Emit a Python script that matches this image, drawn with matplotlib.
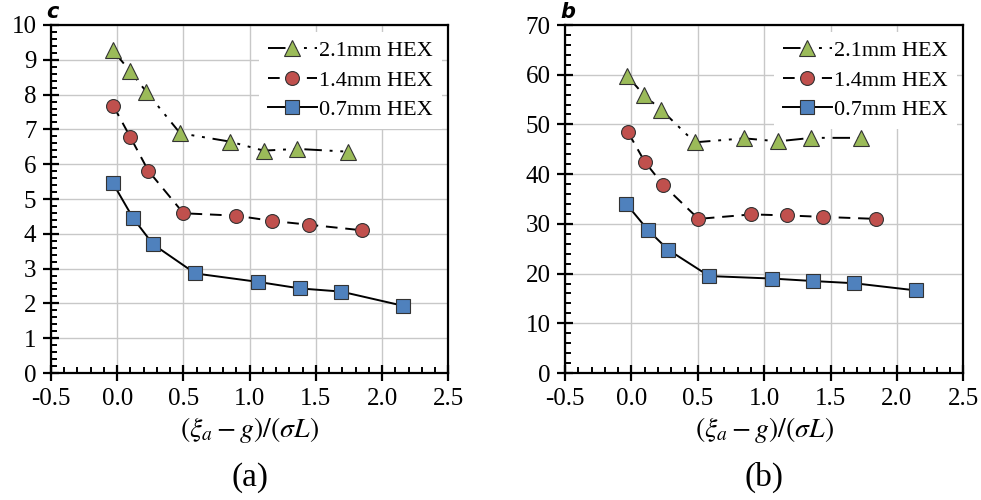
import matplotlib.pyplot as plt
from matplotlib.ticker import MultipleLocator, FormatStrFormatter

plt.rcParams["font.family"] = "Liberation Serif"
plt.rcParams["mathtext.fontset"] = "stix"

# panel (a): c
c_x_21 = [-0.035, 0.096, 0.22, 0.475, 0.85, 1.106, 1.36, 1.74]
c_y_21 = [9.28, 8.68, 8.08, 6.89, 6.65, 6.39, 6.44, 6.36]
c_x_14 = [-0.03, 0.10, 0.235, 0.50, 0.90, 1.17, 1.45, 1.85]
c_y_14 = [7.68, 6.77, 5.81, 4.59, 4.52, 4.37, 4.26, 4.10]
c_x_07 = [-0.035, 0.12, 0.27, 0.59, 1.06, 1.38, 1.69, 2.16]
c_y_07 = [5.47, 4.45, 3.70, 2.86, 2.62, 2.43, 2.34, 1.93]

# panel (b): b
b_x_21 = [-0.033, 0.095, 0.226, 0.477, 0.849, 1.105, 1.356, 1.73]
b_y_21 = [59.8, 55.9, 52.9, 46.4, 47.2, 46.6, 47.3, 47.3]
b_x_14 = [-0.025, 0.10, 0.24, 0.505, 0.904, 1.17, 1.44, 1.84]
b_y_14 = [48.4, 42.5, 37.8, 31.0, 31.9, 31.7, 31.4, 31.0]
b_x_07 = [-0.038, 0.123, 0.276, 0.585, 1.057, 1.368, 1.68, 2.147]
b_y_07 = [34.0, 28.8, 24.8, 19.5, 19.0, 18.5, 18.05, 16.6]

labels = ["2.1mm HEX", "1.4mm HEX", "0.7mm HEX"]
GREEN = "#9BBB59"
RED = "#C0504D"
BLUE = "#4F81BD"


def draw_panel(ax, series, ymax, ystep, letter, caption):
    (x21, y21), (x14, y14), (x07, y07) = series
    ax.plot(x21, y21, color="black", lw=1.4, dashes=(9, 4, 1.5, 4, 1.5, 4),
            marker="^", ms=11, mfc=GREEN, mec="#333333", mew=0.8, label=labels[0], zorder=3)
    ax.plot(x14, y14, color="black", lw=1.4, dashes=(6, 4),
            marker="o", ms=10, mfc=RED, mec="#333333", mew=0.8, label=labels[1], zorder=3)
    ax.plot(x07, y07, color="black", lw=1.4, ls="-",
            marker="s", ms=10, mfc=BLUE, mec="#333333", mew=0.8, label=labels[2], zorder=3)

    ax.set_xlim(-0.5, 2.5)
    ax.set_ylim(0, ymax)
    ax.xaxis.set_major_locator(MultipleLocator(0.5))
    ax.xaxis.set_minor_locator(MultipleLocator(0.1))
    ax.xaxis.set_major_formatter(FormatStrFormatter("%.1f"))
    ax.yaxis.set_major_locator(MultipleLocator(ystep))
    ax.yaxis.set_minor_locator(MultipleLocator(ystep / 5))
    ax.grid(True, which="major", color="#c8c8c8", lw=1.0, zorder=0)
    ax.set_axisbelow(True)

    for sp in ax.spines.values():
        sp.set_linewidth(1.6)
        sp.set_color("black")
    ax.tick_params(which="major", direction="inout", length=11, width=1.6,
                   labelsize=18, top=False, right=False, pad=5)
    ax.tick_params(which="minor", direction="in", length=4, width=1.4,
                   top=False, right=False)

    ax.set_xlabel(r"$(\xi_a - g)/(\sigma L)$", fontsize=20, labelpad=4)
    leg = ax.legend(loc="upper right", fontsize=16, handlelength=2.2,
                    handletextpad=0.1, labelspacing=0.4, borderaxespad=0.3,
                    frameon=True, fancybox=False)
    leg.get_frame().set_edgecolor("none")
    leg.get_frame().set_facecolor("white")
    leg.get_frame().set_alpha(1)

    ax.text(-0.012, 1.01, letter, transform=ax.transAxes, ha="left", va="bottom",
            fontsize=15, fontweight="bold", fontstyle="italic", family="DejaVu Sans")
    ax.text(0.5, -0.30, caption, transform=ax.transAxes, ha="center", va="center",
            fontsize=24)


fig = plt.figure(figsize=(9.81, 5.0), dpi=100)
ax1 = fig.add_axes([0.052, 0.254, 0.405, 0.696])
ax2 = fig.add_axes([0.576, 0.254, 0.406, 0.696])

draw_panel(ax1, [(c_x_21, c_y_21), (c_x_14, c_y_14), (c_x_07, c_y_07)], 10, 1, "c", "(a)")
draw_panel(ax2, [(b_x_21, b_y_21), (b_x_14, b_y_14), (b_x_07, b_y_07)], 70, 10, "b", "(b)")

fig.savefig("out.png", dpi=100)
